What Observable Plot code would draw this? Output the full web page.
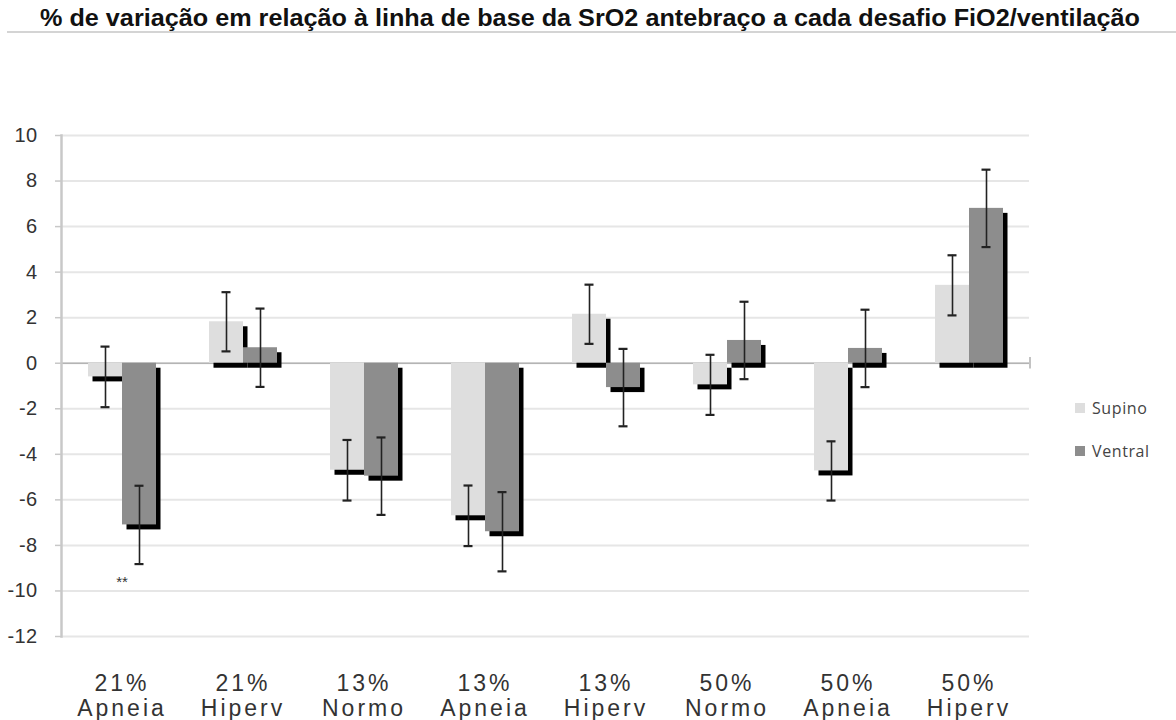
<!DOCTYPE html>
<html>
<head>
<meta charset="utf-8">
<script src="https://cdn.jsdelivr.net/npm/d3@7"></script>
<script src="https://cdn.jsdelivr.net/npm/@observablehq/plot@0.6"></script>
<style>
  html, body { margin: 0; padding: 0; background: #fff; }
  #wrap { position: relative; width: 1176px; height: 720px; overflow: hidden; }
  #title { position: relative; height: 36px; }
  #title span { position: absolute; left: 40px; top: 5px; font: bold 23px "Liberation Sans", Arial, sans-serif; color: #111; white-space: nowrap; transform-origin: 0 0; }
  #title .rule { position: absolute; left: 7px; right: 0; top: 31px; height: 2px; background: #d4d4d4; }
  #legend { position: absolute; left: 1075px; top: 396px; font: 16px "Open Sans", sans-serif; color: #444; letter-spacing: 0.6px; }
  #legend .row { display: flex; align-items: center; height: 24px; margin-bottom: 19px; }
  #legend .sw { width: 10px; height: 10px; margin-right: 7px; }
  svg g[aria-label^="fx-axis tick label"] text { letter-spacing: 3px; }
  svg g[aria-label^="y-axis tick label"] text { letter-spacing: 0.4px; }
</style>
</head>
<body>
<div id="wrap">
  <div id="title"><span>% de variação em relação à linha de base da SrO2 antebraço a cada desafio FiO2/ventilação</span><div class="rule"></div></div>
  <div id="chart"></div>
  <div id="legend"></div>
</div>
<script>
// ---- data ----
const fio2 = ["21%", "21%", "13%", "13%", "13%", "50%", "50%", "50%"];
const mode = ["Apneia", "Hiperv", "Normo", "Apneia", "Hiperv", "Normo", "Apneia", "Hiperv"];
const seriesNames = ["Supino", "Ventral"];
const supino = [-0.6, 1.82, -4.7, -6.7, 2.15, -0.95, -4.73, 3.42];
const supinoErr = [1.33, 1.3, 1.33, 1.33, 1.3, 1.32, 1.3, 1.32];
const ventral = [-7.1, 0.68, -4.96, -7.4, -1.07, 1.0, 0.65, 6.8];
const ventralErr = [1.72, 1.72, 1.7, 1.74, 1.7, 1.7, 1.7, 1.7];
const yTicks = [-12, -10, -8, -6, -4, -2, 0, 2, 4, 6, 8, 10];
const annotations = [{group: 0, text: "**", y: -9.6}];
const colors = ["#dedede", "#8d8d8d"];

// ---- build table ----
const cats = fio2.map((f, i) => f + "\n" + mode[i]);
const rows = [];
cats.forEach((c, i) => {
  rows.push({cat: c, series: "Supino", value: supino[i], err: supinoErr[i]});
  rows.push({cat: c, series: "Ventral", value: ventral[i], err: ventralErr[i]});
});
const notes = annotations.map(a => ({cat: cats[a.group], text: a.text, y: a.y}));

const chart = Plot.plot({
  width: 1176,
  height: 684,
  marginLeft: 58,
  marginRight: 144,
  marginTop: 99,
  marginBottom: 84,
  style: {fontFamily: "'Liberation Sans', Arial, sans-serif", color: "#333", background: "#fff"},
  fx: {domain: cats, padding: 0, label: null, axis: null},
  x: {domain: seriesNames, paddingInner: 0, paddingOuter: 0.74, axis: null},
  y: {domain: [-12, 10], nice: false, label: null, axis: null},
  color: {domain: seriesNames, range: colors},
  marks: [
    Plot.ruleY(yTicks, {stroke: "#e6e6e6", strokeWidth: 2}),
    Plot.ruleY([0], {stroke: "#b4b4b4", strokeWidth: 1.6}),
    Plot.ruleX([cats[cats.length - 1]], {fx: d => d, x: () => "Ventral", dx: 43.5, y1: 0.25, y2: -0.25, stroke: "#b4b4b4", strokeWidth: 1.6}),
    Plot.frame({anchor: "left", facetAnchor: "left", stroke: "#c8c8c8", strokeWidth: 2.5}),
    Plot.axisY({ticks: yTicks, tickSize: 6, tickFormat: () => "", stroke: "#c8c8c8", strokeWidth: 1.5, label: null}),
    Plot.axisY({ticks: yTicks, tickSize: 0, tickPadding: 24, tickFormat: d => String(d), fontSize: 20, fill: "#333", label: null}),
    Plot.axisFx({anchor: "bottom", tickSize: 0, tickPadding: 37, fontSize: 23, lineHeight: 1.09, fill: "#333", label: null}),
    Plot.barY(rows, {fx: "cat", x: "series", y: "value", fill: "#000", dx: 4.5, dy: 5}),
    Plot.barY(rows, {fx: "cat", x: "series", y: "value", fill: "series"}),
    Plot.ruleX(rows, {fx: "cat", x: "series", y1: d => d.value - d.err, y2: d => d.value + d.err, stroke: "#222", strokeWidth: 1.6}),
    Plot.tickY(rows, {fx: "cat", x: "series", y: d => d.value - d.err, insetLeft: 12.5, insetRight: 12.5, stroke: "#222", strokeWidth: 2.2}),
    Plot.tickY(rows, {fx: "cat", x: "series", y: d => d.value + d.err, insetLeft: 12.5, insetRight: 12.5, stroke: "#222", strokeWidth: 2.2}),
    Plot.text(notes, {fx: "cat", y: "y", text: "text", fontSize: 15, fill: "#333"})
  ]
});
document.getElementById("chart").appendChild(chart);

// legend
const leg = document.getElementById("legend");
seriesNames.forEach((s, i) => {
  const row = document.createElement("div");
  row.className = "row";
  row.innerHTML = `<div class="sw" style="background:${colors[i]}"></div><span>${s}</span>`;
  leg.appendChild(row);
});

// fit title width
const t = document.querySelector("#title span");
const w = t.getBoundingClientRect().width;
t.style.transform = `scaleX(${1100 / w})`;
</script>
</body>
</html>
